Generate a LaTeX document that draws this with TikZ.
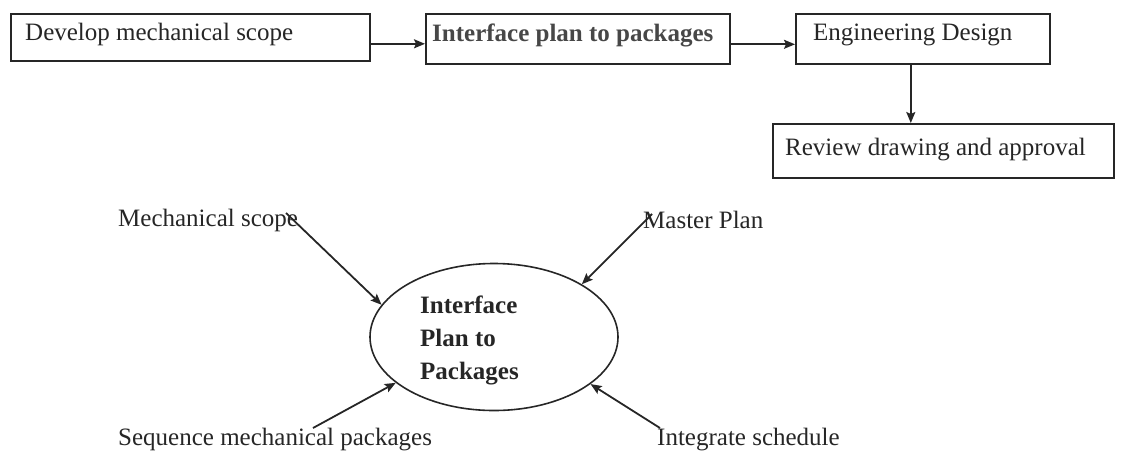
\documentclass[tikz,border=0pt]{standalone}
\usepackage{fontspec}
\setmainfont{Liberation Serif}
\usetikzlibrary{shapes.geometric, arrows.meta}
\definecolor{ink}{HTML}{262626}
\begin{document}
\begin{tikzpicture}[x=1pt, y=-1pt,
  every node/.style={font=\fontsize{25}{30}\selectfont, text=ink, inner sep=0pt},
  stepbox/.style={draw=ink, line width=1.6pt, rectangle, anchor=north west},
  lbl/.style={anchor=west},
  flow/.style={draw=ink, line width=1.8pt, -{Stealth[length=11pt, width=9pt, inset=2pt]}},
]
\useasboundingbox (0,0) rectangle (1123,451);

% process chain along the top
\node[stepbox, minimum width=359pt, minimum height=47pt] (b1) at (10,13) {};
\node[stepbox, minimum width=304pt, minimum height=50pt] (b2) at (425,13) {};
\node[stepbox, minimum width=254pt, minimum height=50pt] (b3) at (795,13) {};
\node[stepbox, minimum width=341pt, minimum height=54pt] (b4) at (772,123) {};

\node[lbl] (b1t) at (25,34) {Develop mechanical scope};
\node[lbl, font=\bfseries\fontsize{25}{30}\selectfont, text=black!72] (b2t) at (432,35) {Interface plan to packages};
\node[lbl] (b3t) at (813,35) {Engineering Design};
\node[lbl] (b4t) at (785,150) {Review drawing and approval};

\draw[flow] ([yshift=-6.5pt]b1.east) -- ([yshift=-6.5pt]b1.east -| b2.west);
\draw[flow] ([yshift=-5.5pt]b2.east) -- ([yshift=-5.5pt]b2.east -| b3.west);
\draw[flow] ([xshift=-12pt]b3.south) -- ([xshift=-12pt]b3.south |- b4.north);

% inputs to the interface plan
\node[draw=ink, ellipse, line width=1.6pt, minimum width=248pt, minimum height=147pt] (ip) at (494,337) {};
\node[anchor=west, align=left, font=\bfseries\fontsize{25}{33}\selectfont] (ipt) at (420,340) {Interface\\Plan to\\Packages};

\node[lbl] (ms) at (118,220) {Mechanical scope};
\node[lbl] (mp) at (643,220) {Master Plan};
\node[lbl] (sq) at (118,440) {Sequence mechanical packages};
\node[lbl] (ig) at (657,440) {Integrate schedule};

\coordinate (msend) at (286,213);
\coordinate (mpend) at (652,214);
\coordinate (sqend) at (313,428);
\coordinate (igend) at (660,428);

\draw[flow] (msend) -- (ip.164);
\draw[flow] (mpend) -- (ip.31);
\draw[flow] (sqend) -- (ip.205);
\draw[flow] (igend) -- (ip.334);
\end{tikzpicture}
\end{document}
